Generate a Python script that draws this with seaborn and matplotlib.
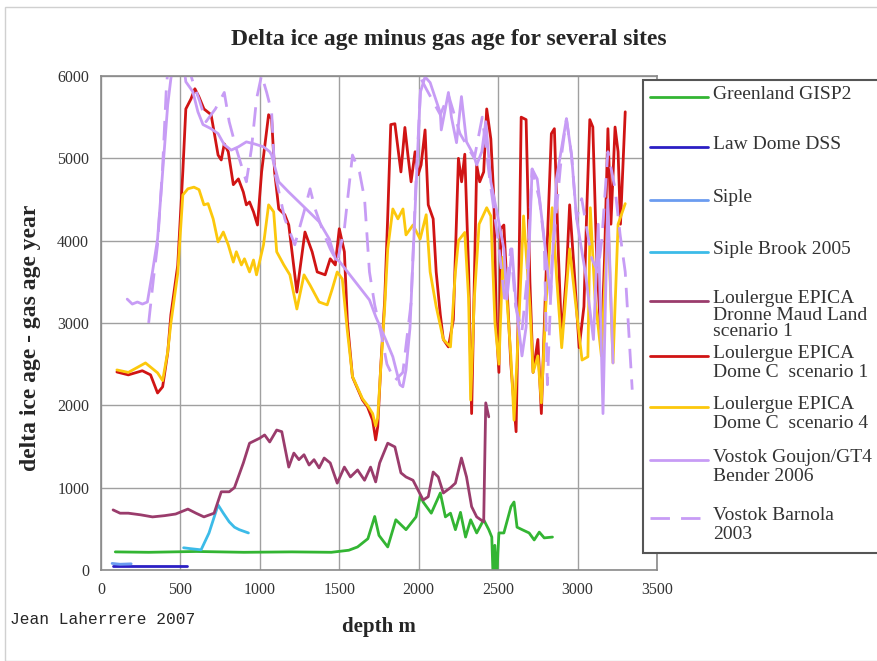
import numpy as np
import pandas as pd
import seaborn as sns
from matplotlib import pyplot as plt
from matplotlib.lines import Line2D
from matplotlib.patches import Rectangle

# depth m / delta age year
gisp2_depth = [90, 300, 600, 900, 1200, 1450, 1560, 1615, 1680, 1723, 1750, 1805, 1856, 1920, 1983,
               2010, 2028, 2079, 2136, 2168, 2200, 2231, 2263, 2295, 2327, 2365, 2409, 2441, 2460,
               2470, 2479, 2490, 2498, 2505, 2536, 2581, 2600, 2619, 2651, 2695, 2727, 2759, 2790, 2842]
gisp2_delta = [220, 215, 225, 215, 220, 215, 240, 280, 380, 650, 420, 280, 610, 490, 645,
               900, 826, 690, 935, 645, 690, 490, 700, 400, 610, 450, 610, 490, 400,
               -200, 300, -200, 200, 450, 450, 770, 826, 520, 490, 450, 365, 460, 390, 400]

law_dome_depth = [75, 200, 350, 540]
law_dome_delta = [50, 50, 50, 50]

siple_depth = [70, 120, 190]
siple_delta = [80, 70, 75]

siple_brook_depth = [520, 560, 630, 680, 737, 770, 807, 840, 870, 928]
siple_brook_delta = [270, 260, 245, 450, 790, 690, 585, 520, 490, 450]

dml_depth = [76, 120, 172, 250, 324, 400, 470, 547, 598, 648, 712, 757, 807, 840, 896, 935, 998,
             1030, 1062, 1106, 1138, 1182, 1214, 1246, 1278, 1310, 1341, 1373, 1405, 1443, 1487,
             1532, 1570, 1615, 1659, 1697, 1729, 1754, 1805, 1850, 1888, 1920, 1964, 2028, 2060,
             2091, 2123, 2155, 2200, 2231, 2269, 2301, 2333, 2365, 2409, 2422, 2441]
dml_delta = [730, 690, 690, 670, 645, 660, 680, 740, 690, 645, 690, 950, 950, 1000, 1300, 1540, 1600,
             1640, 1555, 1700, 1680, 1250, 1420, 1340, 1400, 1275, 1340, 1240, 1360, 1300, 1055,
             1250, 1130, 1215, 1090, 1250, 1070, 1300, 1540, 1495, 1180, 1130, 1090, 850, 890,
             1190, 1130, 935, 1000, 1055, 1360, 1130, 770, 645, 585, 2030, 1860]

edc1_depth = [100, 172, 260, 312, 356, 388, 420, 440, 483, 515, 534, 566, 591, 617, 648, 693, 712,
              737, 757, 776, 801, 833, 865, 896, 915, 935, 960, 985, 1011, 1055, 1074, 1093, 1119,
              1157, 1182, 1233, 1284, 1329, 1361, 1411, 1443, 1475, 1500, 1532, 1551, 1583, 1646,
              1678, 1710, 1729, 1742, 1761, 1786, 1805, 1824, 1850, 1888, 1913, 1932, 1952, 1977,
              1996, 2015, 2040, 2060, 2091, 2110, 2136, 2155, 2187, 2218, 2250, 2270, 2290, 2314,
              2333, 2350, 2365, 2384, 2409, 2428, 2454, 2473, 2490, 2505, 2517, 2536, 2555, 2580,
              2613, 2630, 2645, 2676, 2700, 2720, 2750, 2772, 2800, 2835, 2854, 2880, 2900, 2930,
              2950, 2980, 3010, 3040, 3060, 3077, 3096, 3120, 3150, 3170, 3191, 3210, 3236, 3255,
              3270, 3300]
edc1_delta = [2405, 2370, 2420, 2370, 2150, 2225, 2640, 3100, 3700, 4835, 5600, 5720, 5845, 5745, 5600,
              5530, 5320, 5040, 4980, 5175, 5080, 4680, 4750, 4590, 4435, 4470, 4350, 4190, 4835,
              5530, 5480, 4835, 4385, 4315, 4190, 3375, 4105, 3865, 3620, 3585, 3780, 3705, 4145,
              3865, 3015, 2345, 2065, 1980, 1820, 1580, 1740, 2470, 3280, 4300, 5410, 5420, 4835,
              5375, 5040, 4715, 5080, 4800, 4920, 5345, 4435, 4265, 3620, 3100, 2800, 2710, 3040,
              5000, 4715, 5050, 3650, 1900, 3500, 4920, 4715, 4835, 5600, 5235, 4510, 2900, 2400,
              4145, 4190, 3460, 2500, 1680, 3500, 5500, 5470, 3500, 2400, 2800, 1900, 3500, 5300,
              5360, 3800, 2800, 3600, 4435, 3600, 2700, 3200, 4500, 5470, 5380, 3800, 2700, 3800,
              5360, 4200, 5380, 5080, 4200, 5565]

edc4_depth = [100, 172, 280, 356, 388, 420, 440, 483, 515, 547, 585, 617, 648, 674, 706, 737, 770,
              801, 833, 852, 884, 903, 935, 960, 979, 1023, 1055, 1087, 1106, 1151, 1189, 1233,
              1278, 1316, 1373, 1424, 1456, 1487, 1519, 1551, 1583, 1646, 1678, 1710, 1729, 1742,
              1761, 1786, 1805, 1837, 1869, 1901, 1920, 1964, 2009, 2047, 2072, 2110, 2155, 2200,
              2230, 2250, 2290, 2314, 2327, 2350, 2380, 2428, 2454, 2480, 2505, 2530, 2555, 2580,
              2600, 2630, 2660, 2700, 2720, 2750, 2772, 2800, 2840, 2870, 2900, 2950, 2990, 3028,
              3065, 3080, 3110, 3150, 3191, 3223, 3255, 3300]
edc4_delta = [2430, 2400, 2515, 2395, 2300, 2650, 3000, 3600, 4555, 4630, 4650, 4620, 4435, 4450,
              4265, 3985, 4105, 3950, 3740, 3865, 3705, 3780, 3620, 3765, 3585, 3950, 4435, 4350,
              3865, 3705, 3585, 3170, 3585, 3460, 3255, 3220, 3415, 3620, 3535, 2900, 2350, 2080,
              2000, 1900, 1750, 1850, 2450, 3200, 3900, 4385, 4265, 4385, 4070, 4190, 4020, 4315,
              3620, 3200, 2800, 2710, 3600, 4000, 4100, 3300, 2065, 3300, 4200, 4400, 4300, 3000,
              2500, 3800, 3300, 2600, 1820, 3000, 4300, 3200, 2400, 2600, 2030, 3200, 4400, 3500,
              2700, 3900, 3200, 2550, 2590, 4400, 3300, 2600, 4300, 2515, 4200, 4450]

goujon_depth = [165, 197, 229, 261, 292, 324, 356, 388, 420, 440, 470, 510, 534, 578, 610, 642, 693,
                737, 776, 820, 865, 915, 966, 1023, 1062, 1074, 1119, 1182, 1246, 1310, 1373, 1437,
                1475, 1500, 1690, 1730, 1793, 1837, 1882, 1900, 1920, 1945, 1980, 2010, 2040, 2072,
                2136, 2142, 2187, 2206, 2238, 2269, 2301, 2346, 2365, 2397, 2422, 2454, 2492, 2536,
                2555, 2587, 2613, 2650, 2676, 2714, 2746, 2790, 2830, 2867, 2930, 2962, 2994, 3050,
                3100, 3130, 3160, 3190, 3223]
goujon_delta = [3290, 3230, 3255, 3230, 3255, 3620, 4020, 4835, 5650, 5970, 6300, 6300, 5930, 5810,
                5565, 5410, 5360, 5300, 5165, 5100, 5140, 5200, 5175, 5140, 5080, 5040, 4715, 4590,
                4470, 4350, 4230, 4020, 3780, 3750, 3280, 3075, 2795, 2590, 2250, 2225, 2430, 2940,
                4500, 5800, 5990, 5920, 5550, 5345, 5800, 5500, 5190, 5750, 5200, 5040, 4920, 5080,
                5445, 4715, 4350, 3900, 3290, 3900, 3220, 2600, 2950, 4870, 4750, 4020, 3300, 4750,
                5480, 5040, 4265, 3600, 2800, 4200, 1900, 4500, 2515]

barnola_depth = [300, 330, 356, 388, 410, 425, 470, 520, 578, 620, 661, 720, 776, 807, 852, 896, 915,
                 947, 979, 1011, 1043, 1074, 1093, 1157, 1220, 1278, 1316, 1348, 1400, 1443, 1487,
                 1532, 1583, 1627, 1659, 1690, 1723, 1760, 1800, 1850, 1900, 1952, 1980, 2015, 2047,
                 2136, 2187, 2260, 2350, 2400, 2450, 2500, 2540, 2580, 2610, 2650, 2680, 2714, 2760,
                 2790, 2810, 2840, 2899, 2930, 2962, 2994, 3026, 3090, 3128, 3153, 3191, 3236, 3268,
                 3300, 3344]
barnola_delta = [3000, 3535, 3950, 4900, 5800, 6200, 6400, 6300, 5930, 5700, 5445, 5600, 5800, 5445,
                 5115, 4835, 4715, 5115, 5720, 6010, 5800, 5565, 4835, 4265, 3950, 4350, 4630, 4385,
                 4100, 3900, 3740, 4145, 5040, 4835, 4510, 3620, 3220, 2900, 2500, 2300, 2400, 3245,
                 4600, 5965, 5845, 5530, 5770, 5300, 5000, 5500, 4700, 4000, 3300, 3900, 3200, 2900,
                 3500, 4870, 4500, 4000, 2250, 3800, 5040, 5480, 5040, 4265, 4510, 3780, 3620, 4020,
                 5080, 4630, 4070, 3620, 2190]

series = [
    ("Greenland GISP2", gisp2_depth, gisp2_delta, "#33b533", "-"),
    ("Law Dome DSS", law_dome_depth, law_dome_delta, "#2b1fc4", "-"),
    ("Siple", siple_depth, siple_delta, "#6b9cf0", "-"),
    ("Siple Brook 2005", siple_brook_depth, siple_brook_delta, "#3cbbe8", "-"),
    ("Loulergue EPICA\nDronne Maud Land\nscenario 1", dml_depth, dml_delta, "#9a3c6c", "-"),
    ("Loulergue EPICA\nDome C  scenario 1", edc1_depth, edc1_delta, "#d01414", "-"),
    ("Loulergue EPICA\nDome C  scenario 4", edc4_depth, edc4_delta, "#fcc80c", "-"),
    ("Vostok Goujon/GT4\nBender 2006", goujon_depth, goujon_delta, "#c79cf5", "-"),
    ("Vostok Barnola\n2003", barnola_depth, barnola_delta, "#c79cf5", (0, (7, 4))),
]

sns.set_style("white")
plt.rcParams["font.family"] = ["Liberation Serif", "DejaVu Serif"]

fig = plt.figure(figsize=(8.77, 6.61), dpi=100)
ax = fig.add_axes([101 / 877, 1 - 570 / 661, 556 / 877, 494 / 661])

for label, depth, delta, color, style in series:
    df = pd.DataFrame({"depth": depth, "delta": delta})
    sns.lineplot(data=df, x="depth", y="delta", ax=ax, color=color, lw=2.0,
                 linestyle=style, sort=False, estimator=None)

ax.set_xlim(0, 3500)
ax.set_ylim(0, 6000)
ax.set_xticks(np.arange(0, 3501, 500))
ax.set_yticks(np.arange(0, 6001, 1000))
ax.grid(True, color="#a0a0a0", lw=1.0)
ax.set_axisbelow(True)
for s in ax.spines.values():
    s.set_color("#8a8a8a")
    s.set_linewidth(1.2)
ax.tick_params(axis="both", length=5, color="#8a8a8a", labelsize=11.5, labelcolor="#333333")
ax.set_xlabel("depth m", fontsize=15, fontweight="bold", labelpad=14)
ax.set_ylabel("delta ice age - gas age year", fontsize=17, fontweight="bold")
ax.yaxis.set_label_coords(-0.108, 0.47)

fig.text(449 / 877, 1 - 40 / 661, "Delta ice age minus gas age for several sites",
         ha="center", va="center", fontsize=17, fontweight="bold")
fig.text(10 / 877, 1 - 620 / 661, "Jean Laherrere 2007", ha="left", va="center",
         fontsize=11.7, family="Liberation Mono")

# legend box drawn like the spreadsheet one: fixed row pitch, labels hang from the first line
fig.patches.append(Rectangle((643 / 877, 1 - 553 / 661), 0.4, 473 / 661, transform=fig.transFigure,
                             facecolor="white", edgecolor="#555555", lw=1.5, zorder=5))
rows = [97, 147, 200, 252, 301, 356, 407, 460, 518]
for (label, _, _, color, style), ry in zip(series, rows):
    yf = 1 - ry / 661
    fig.lines.append(Line2D([650 / 877, 708 / 877], [yf, yf], transform=fig.transFigure,
                            color=color, lw=2.0, linestyle=style, zorder=6))
    spacing = 0.98 if label.count("\n") == 2 else 1.12
    fig.text(713 / 877, yf + 11 / 661, label, ha="left", va="top", fontsize=14,
             color="#333333", linespacing=spacing, zorder=7)

fig.patches.append(Rectangle((5 / 877, 0), 1, 1 - 7 / 661, transform=fig.transFigure,
                             facecolor="none", edgecolor="#d0d0d0", lw=1.0, zorder=0))

fig.savefig("out.png", dpi=100)
